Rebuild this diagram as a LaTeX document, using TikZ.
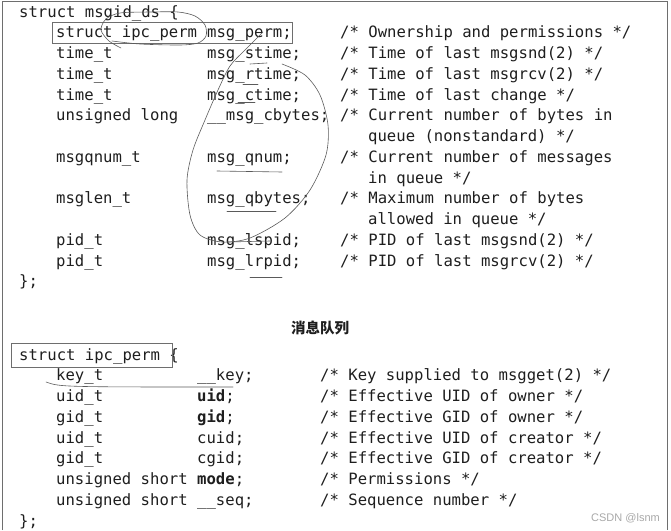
\documentclass[tikz,border=0pt]{standalone}
\usepackage{fontspec}
\setmonofont{DejaVu Sans Mono}
\newfontfamily\cjkfont{Noto Sans CJK SC}
\newfontfamily\markfont{Liberation Sans}
\definecolor{inkgray}{HTML}{1E1E1E}
\definecolor{pengray}{HTML}{5A5A5A}
\definecolor{framegray}{HTML}{6E6E6E}
\definecolor{markgray}{HTML}{A8A8A8}
\tikzset{
	code/.style={anchor=base west, inner sep=0pt, text=inkgray,
		font=\fontsize{15.6}{20}\selectfont\ttfamily},
	pen/.style={draw=pengray, line width=0.6pt, line cap=round},
	markbox/.style={draw=framegray, line width=0.8pt},
}
\begin{document}
\begin{tikzpicture}[x=1pt,y=-1pt]
	\useasboundingbox (0,0) rectangle (671,530);
	\draw[markbox] (2,530) -- (2,1) -- (667,1) -- (667,530);
	% struct msgid_ds
	\node[code] (m0) at (19,17) {struct msgid\_ds \{};
	\node[code] (m1t) at (56,37.75)  {struct ipc\_perm};
	\node[code] (m1n) at (207,37.75) {msg\_perm;};
	\node[code] (m1c) at (340,37.75) {/* Ownership and permissions */};
	\node[code] (m2t) at (56,58.5)   {time\_t};
	\node[code] (m2n) at (207,58.5)  {msg\_stime;};
	\node[code] (m2c) at (340,58.5)  {/* Time of last msgsnd(2) */};
	\node[code] (m3t) at (56,79.25)  {time\_t};
	\node[code] (m3n) at (207,79.25) {msg\_rtime;};
	\node[code] (m3c) at (340,79.25) {/* Time of last msgrcv(2) */};
	\node[code] (m4t) at (56,100)    {time\_t};
	\node[code] (m4n) at (207,100)   {msg\_ctime;};
	\node[code] (m4c) at (340,100)   {/* Time of last change */};
	\node[code] (m5t) at (56,120.75)  {unsigned long};
	\node[code] (m5n) at (207,120.75) {\_\_msg\_cbytes;};
	\node[code] (m5c) at (340,120.75) {/* Current number of bytes in};
	\node[code] (m6c) at (368,141.5)  {queue (nonstandard) */};
	\node[code] (m7t) at (56,162.25)  {msgqnum\_t};
	\node[code] (m7n) at (207,162.25) {msg\_qnum;};
	\node[code] (m7c) at (340,162.25) {/* Current number of messages};
	\node[code] (m8c) at (368,183)    {in queue */};
	\node[code] (m9t) at (56,203.75)  {msglen\_t};
	\node[code] (m9n) at (207,203.75) {msg\_qbytes;};
	\node[code] (m9c) at (340,203.75) {/* Maximum number of bytes};
	\node[code] (m10c) at (368,224.5) {allowed in queue */};
	\node[code] (m11t) at (56,245.25)  {pid\_t};
	\node[code] (m11n) at (207,245.25) {msg\_lspid;};
	\node[code] (m11c) at (340,245.25) {/* PID of last msgsnd(2) */};
	\node[code] (m12t) at (56,266)   {pid\_t};
	\node[code] (m12n) at (207,266)  {msg\_lrpid;};
	\node[code] (m12c) at (340,266)  {/* PID of last msgrcv(2) */};
	\node[code] (m13) at (19,286.75) {\};};
	%
	\node[anchor=base, inner sep=0pt, text=inkgray,
		font=\fontsize{14.5}{16}\selectfont\cjkfont\bfseries] (qtitle) at (320,333) {消息队列};
	% struct ipc_perm
	\node[code] (p0) at (19,360) {struct ipc\_perm \{};
	\node[code] (p1t) at (56,380.75)  {key\_t};
	\node[code] (p1n) at (197,380.75) {\_\_key;};
	\node[code] (p1c) at (320,380.75) {/* Key supplied to msgget(2) */};
	\node[code] (p2t) at (56,401.5)   {uid\_t};
	\node[code] (p2n) at (197,401.5)  {\textbf{uid};};
	\node[code] (p2c) at (320,401.5)  {/* Effective UID of owner */};
	\node[code] (p3t) at (56,422.25)  {gid\_t};
	\node[code] (p3n) at (197,422.25) {\textbf{gid};};
	\node[code] (p3c) at (320,422.25) {/* Effective GID of owner */};
	\node[code] (p4t) at (56,443)     {uid\_t};
	\node[code] (p4n) at (197,443)    {cuid;};
	\node[code] (p4c) at (320,443)    {/* Effective UID of creator */};
	\node[code] (p5t) at (56,463.75)  {gid\_t};
	\node[code] (p5n) at (197,463.75) {cgid;};
	\node[code] (p5c) at (320,463.75) {/* Effective GID of creator */};
	\node[code] (p6t) at (56,484.5)   {unsigned short};
	\node[code] (p6n) at (197,484.5)  {\textbf{mode};};
	\node[code] (p6c) at (320,484.5)  {/* Permissions */};
	\node[code] (p7t) at (56,505.25)  {unsigned short};
	\node[code] (p7n) at (197,505.25) {\_\_seq;};
	\node[code] (p7c) at (320,505.25) {/* Sequence number */};
	\node[code] (p8) at (19,526) {\};};
	%
	\node[anchor=base east, inner sep=0pt, text=markgray,
		font=\fontsize{11}{12}\selectfont\markfont] (csdn) at (660,521) {CSDN @lsnm};
	% boxes
	\draw[markbox] (52,22) rectangle (292,43);
	\draw[markbox] (11,343) rectangle (172,367);
	% pen marks
	\draw[pen] plot[smooth] coordinates {(121,48) (109,41) (101,30) (106,19) (120,13)
		(150,12) (178,12) (195,16) (205,25) (206,36) (198,43) (180,45) (140,44) (112,41)};
	\draw[pen] plot[smooth] coordinates {(263,32) (245,50) (230,66) (218,90) (205,120)
		(193,150) (187,180) (190,215) (200,235) (222,242) (250,238) (285,218) (310,190)
		(326,155) (328,125) (320,95) (305,75) (282,64)};
	\draw[pen] (250,64) -- (267,63);
	\draw[pen] (243,84) -- (258,84);
	\draw[pen] (238,102) -- (255,102);
	\draw[pen] (217,171) -- (282,172);
	\draw[pen] (227,211) -- (276,211);
	\draw[pen] (228,242) -- (270,241);
	\draw[pen] (250,277) -- (282,277);
	\draw[pen] (46,382) .. controls (60,387) .. (233,387);
\end{tikzpicture}
\end{document}
